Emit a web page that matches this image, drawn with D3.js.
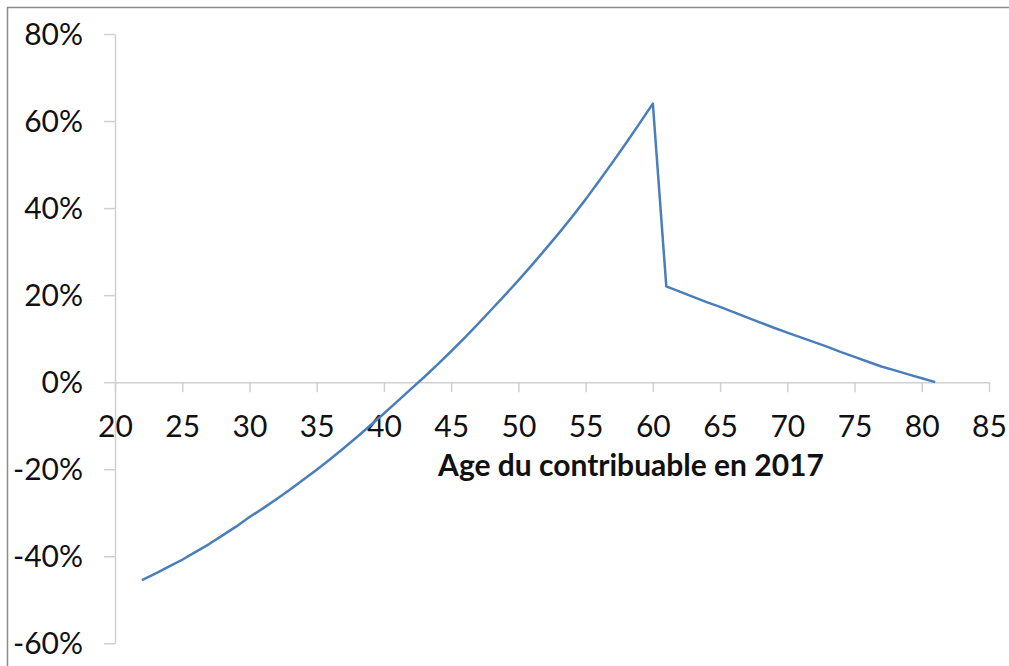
<!DOCTYPE html>
<html lang="fr">
	<head>
		<meta charset="utf-8">
		<title>Age du contribuable en 2017</title>
		<script src="https://d3js.org/d3.v7.min.js"></script>
		<style type="text/css">
			body { margin: 0; background: #fff; }
			svg { display: block; }
			.axis path, .axis line { stroke: #d0d0d0; stroke-width: 1.5; }
			.axis text { font-family: Lato, "Open Sans", sans-serif; font-size: 30px; fill: #111; }
		</style>
	</head>
	<body>
<div id="chart"></div>
		<script type="text/javascript">
//Data
var ages = [22, 23, 24, 25, 26, 27, 28, 29, 30, 31, 32, 33, 34, 35, 36, 37, 38, 39, 40, 41,
            42, 43, 44, 45, 46, 47, 48, 49, 50, 51, 52, 53, 54, 55, 56, 57, 58, 59, 60,
            61, 62, 63, 64, 65, 66, 67, 68, 69, 70, 71, 72, 73, 74, 75, 76, 77, 78, 79, 80, 81];
var gains = [-45.5, -44.0, -42.4, -40.8, -39.0, -37.2, -35.2, -33.2, -31.0, -29.0,
             -26.9, -24.7, -22.4, -20.1, -17.7, -15.2, -12.6, -9.9, -7.2, -4.4,
             -1.6, 1.2, 4.1, 7.1, 10.2, 13.4, 16.7, 20.0, 23.4, 26.9,
             30.5, 34.2, 38.0, 42.0, 46.2, 50.5, 54.9, 59.4, 64.0,
             22.0, 20.8, 19.6, 18.4, 17.3, 16.1, 14.9, 13.7, 12.5, 11.4,
             10.3, 9.2, 8.1, 6.9, 5.8, 4.7, 3.6, 2.7, 1.8, 0.9, 0.0];
var xTicks = [20, 25, 30, 35, 40, 45, 50, 55, 60, 65, 70, 75, 80, 85];
var yTicks = [-60, -40, -20, 0, 20, 40, 60, 80];
var xTitle = "Age du contribuable en 2017";

//Width and height
var w = 1009;
var h = 666;

//Scales
var xScale = d3.scaleLinear()
	.domain([20, 85])
	.range([115, 989]);

var yScale = d3.scaleLinear()
	.domain([-60, 80])
	.range([643.3, 34]);

//Create SVG element
var svg = d3.select("div#chart")
	.append("svg")
	.attr("width", w)
	.attr("height", h);

//Outer frame (runs off the right and bottom edges)
svg.append("rect")
	.attr("x", 7.5)
	.attr("y", 7.5)
	.attr("width", w + 20)
	.attr("height", h + 20)
	.attr("fill", "none")
	.attr("stroke", "#8a8a8a")
	.attr("stroke-width", 1.5);

//Y axis
var yAxis = d3.axisLeft(yScale)
	.tickValues(yTicks)
	.tickSize(11)
	.tickSizeOuter(0)
	.tickPadding(21)
	.tickFormat(d => d + "%");

svg.append("g")
	.attr("class", "axis")
	.attr("transform", "translate(" + xScale(20) + ",0)")
	.call(yAxis)
	.selectAll("text")
	.attr("dy", "0.35em");

//X axis at 0%
var xAxis = d3.axisBottom(xScale)
	.tickValues(xTicks)
	.tickSize(10)
	.tickSizeOuter(0);

var gx = svg.append("g")
	.attr("class", "axis")
	.attr("transform", "translate(0," + yScale(0) + ")")
	.call(xAxis);

gx.selectAll("text")
	.attr("y", 44)
	.attr("dy", "0.35em");

//X axis title
svg.append("text")
	.attr("x", 631)
	.attr("y", 476)
	.attr("text-anchor", "middle")
	.style("font-family", "Lato, 'Open Sans', sans-serif")
	.style("font-weight", "bold")
	.style("font-size", "30px")
	.style("fill", "#111")
	.text(xTitle);

//Line
var line = d3.line()
	.x((d, i) => xScale(ages[i]))
	.y(d => yScale(d));

svg.append("path")
	.datum(gains)
	.attr("d", line)
	.attr("fill", "none")
	.attr("stroke", "#4a7ebb")
	.attr("stroke-width", 2.5)
	.attr("stroke-linejoin", "round");

		</script>
	</body>
</html>
